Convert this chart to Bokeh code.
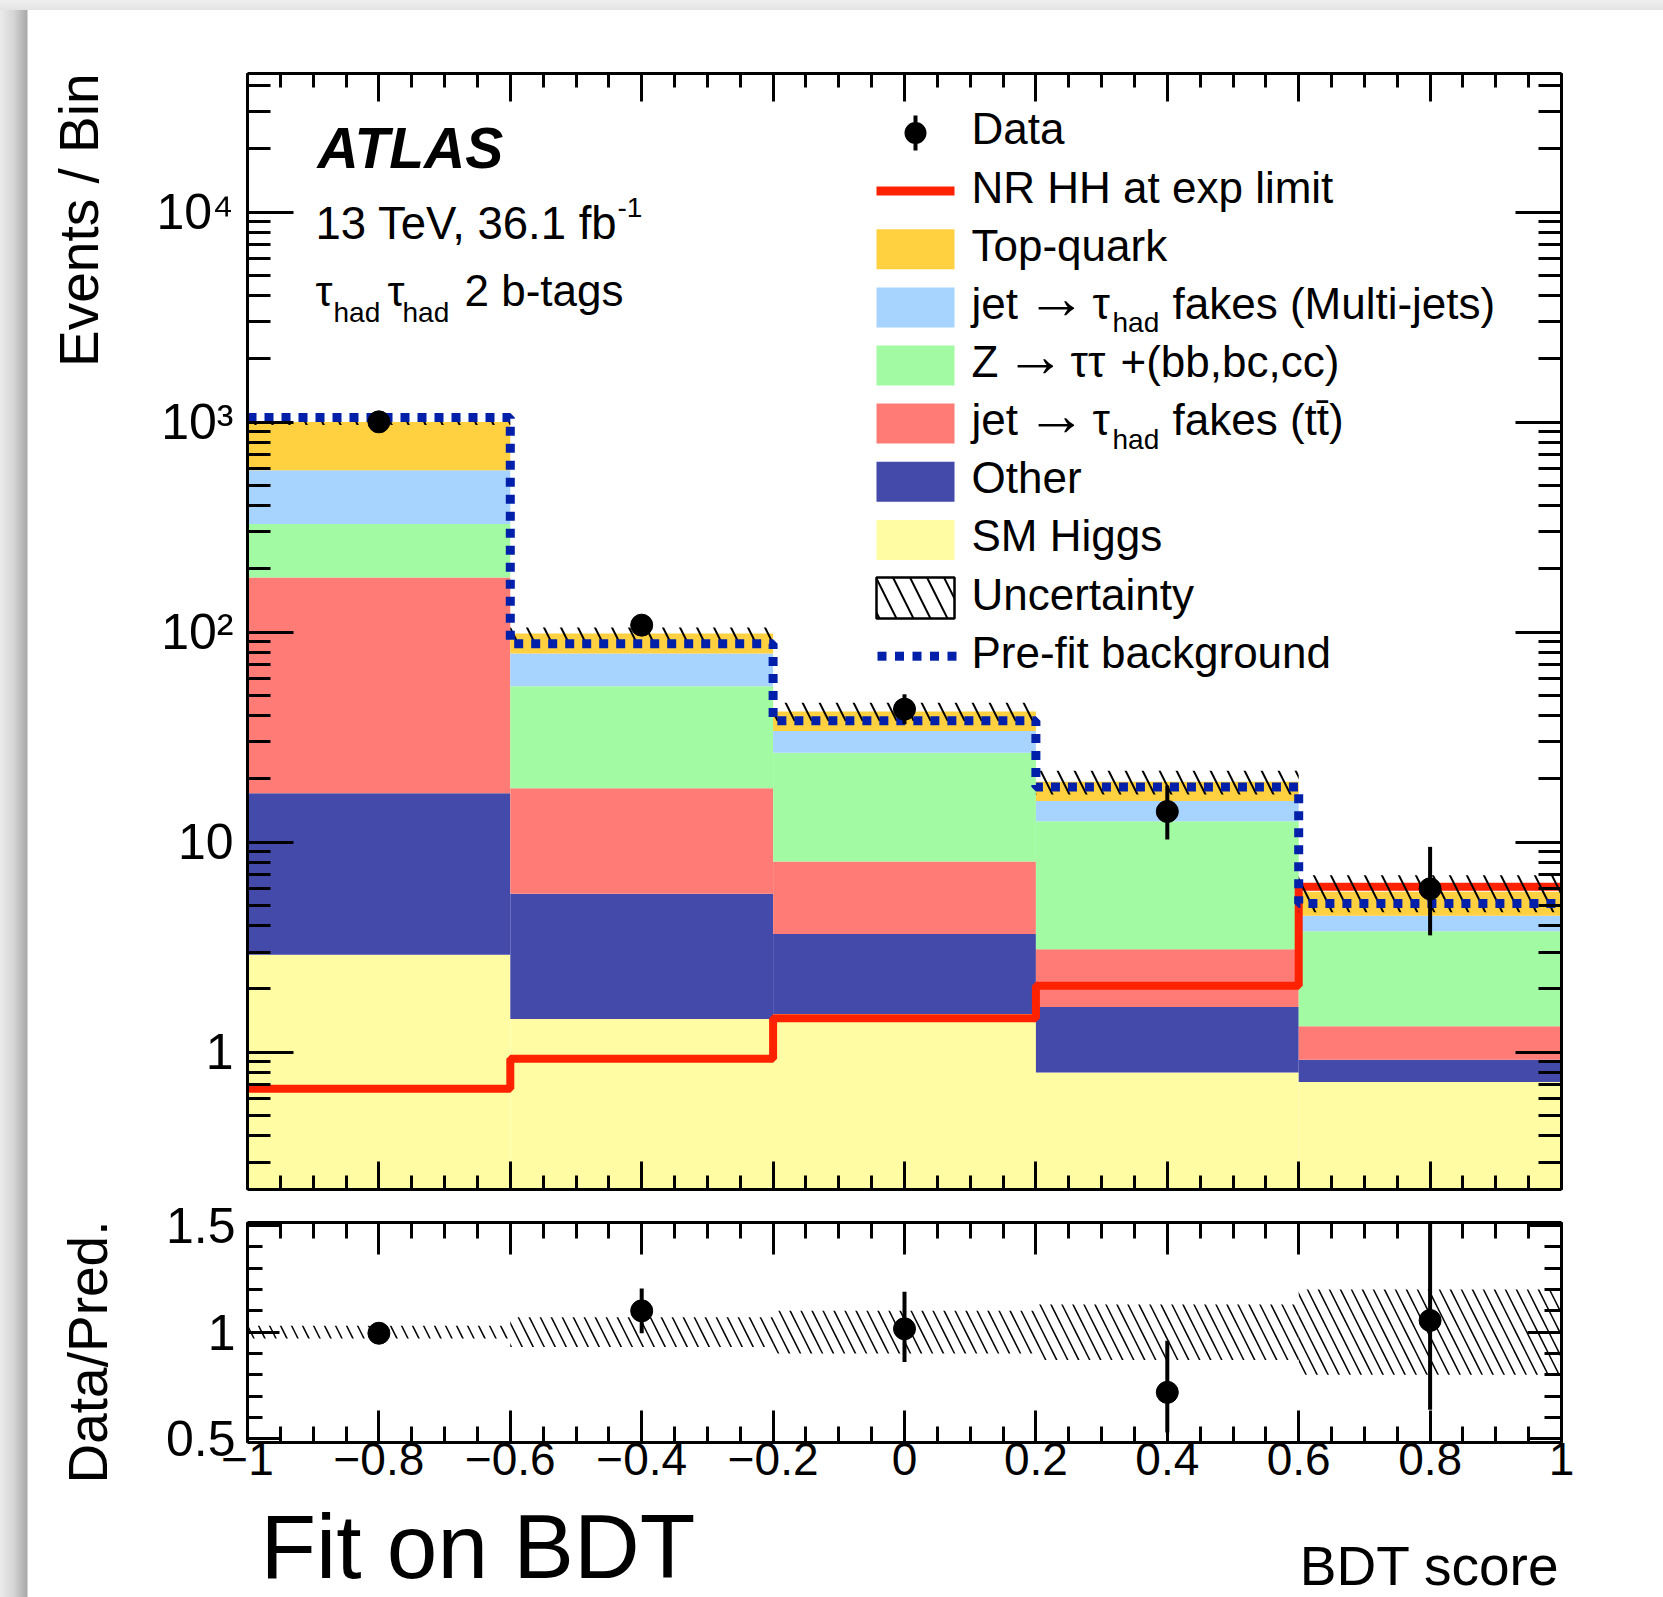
import numpy as np
from bokeh.plotting import figure
from bokeh.models import Range1d, FixedTicker, LinearAxis, LogAxis, Label, BoxAnnotation, Title
from bokeh.layouts import column
from bokeh.embed import file_html
from bokeh.resources import INLINE

# ---------------- data ----------------
bin_edges  = [-1.0, -0.6, -0.2, 0.2, 0.6, 1.0]
sm_higgs   = [2.91, 1.44, 1.52, 0.80, 0.72]
other      = [14.2, 4.24, 2.13, 0.84, 0.20]
ttbar_fake = [165.0, 12.4, 4.44, 1.45, 0.41]
ztautau    = [145.0, 37.2, 18.6, 9.5, 2.44]
multijet   = [263.0, 23.9, 7.1, 3.1, 0.69]
top_quark  = [410.0, 19.3, 8.1, 3.7, 1.34]
rel_unc    = [0.03, 0.07, 0.10, 0.13, 0.20]
prefit     = [1052.0, 88.0, 37.9, 18.3, 5.1]
nr_hh      = [0.67, 0.93, 1.45, 2.07, 6.13]
data       = [1003, 108, 43, 14, 6]
data_lo    = [971, 97.8, 36.5, 10.3, 3.6]
data_hi    = [1035, 118.9, 50.6, 18.6, 9.5]
ratio      = [0.995, 1.10, 1.016, 0.718, 1.055]
ratio_lo   = [0.966, 0.995, 0.86, 0.53, 0.636]
ratio_hi   = [1.026, 1.205, 1.19, 0.96, 1.65]

x_major = [-1.0, -0.8, -0.6, -0.4, -0.2, 0.0, 0.2, 0.4, 0.6, 0.8, 1.0]
x_labels = ["\u22121", "\u22120.8", "\u22120.6", "\u22120.4", "\u22120.2", "0", "0.2", "0.4", "0.6", "0.8", "1"]
y_major = [1, 10, 100, 1000, 10000]
y_labels = ["1", "10", "10\u00b2", "10\u00b3", "10\u2074"]
r_major = [0.5, 1.0, 1.5]
r_labels = ["0.5", "1", "1.5"]

stack = [
    ("SM Higgs", sm_higgs, "#fffca3"),
    ("Other", other, "#434aaa"),
    ("ttbar fakes", ttbar_fake, "#ff7c76"),
    ("Ztautau", ztautau, "#a2faa2"),
    ("Multi-jets", multijet, "#a6d3ff"),
    ("Top-quark", top_quark, "#ffd03f"),
]

FONT = "Liberation Sans"
W = 1663
PAGE_H = 1597
MAIN_TOP, RAT_TOP, BOT_TOP = 0, 1195, 1495
MAIN_H = RAT_TOP - MAIN_TOP
RAT_H = BOT_TOP - RAT_TOP
BOT_H = PAGE_H - BOT_TOP
FL, FR = 247, 1561
MFT, MFB = 73, 1189
RFT, RFB = 1222, 1442

left = np.array(bin_edges[:-1])
right = np.array(bin_edges[1:])
centers = (left + right) / 2

LEFT_SHADOW = "linear-gradient(to right, #ebebeb 0px, #d4d4d4 14px, #a9a9a9 27px, #ffffff 28px)"
TOP_SHADOW = "linear-gradient(to bottom, #f0f0f0 0px, #e4e4e4 10px, rgba(255,255,255,0) 10px)"

x_minor = [round(v, 2) for v in np.arange(-1.0, 1.0001, 0.05)]
y_minor = [m * 10.0 ** k for k in range(-1, 5) for m in range(2, 10)]
r_minor = [round(v, 2) for v in np.arange(0.5, 1.5001, 0.1)]


def style_axis(ax, major_in, minor_in, labels=False, size=50, standoff=10):
    ax.major_tick_in = major_in
    ax.major_tick_out = 0
    ax.minor_tick_in = minor_in
    ax.minor_tick_out = 0
    ax.major_tick_line_width = 3
    ax.minor_tick_line_width = 3
    ax.major_tick_line_color = "black"
    ax.minor_tick_line_color = "black"
    ax.axis_line_width = 3
    ax.axis_line_color = "black"
    if labels:
        ax.major_label_text_font = FONT
        ax.major_label_text_font_size = f"{size}px"
        ax.major_label_text_color = "black"
        ax.major_label_standoff = standoff
    else:
        ax.major_label_text_font_size = "3px"
        ax.major_label_text_alpha = 0
        ax.major_label_standoff = 0


def side_title(text, size, align, vertical_align, offset, standoff):
    t = Title(text=text, align=align, vertical_align=vertical_align, offset=offset,
              text_font=FONT, text_font_size=f"{size}px", text_font_style="normal", text_color="black")
    try:
        t.standoff = standoff
    except Exception:
        pass
    return t


def mlab(text, px, base_py, frame_bottom, size, **kw):
    # place by baseline (page px); Bokeh anchors at the text box middle
    cy = base_py - 0.3465 * size
    return Label(x=px - FL, y=frame_bottom - cy, x_units="screen", y_units="screen",
                 text=text, text_font=FONT, text_font_size=f"{size}px", text_color="black",
                 text_baseline="middle", **kw)


def box(l, r, t, b, fb, **kw):
    return BoxAnnotation(left=l - FL, right=r - FL, top=fb - t, bottom=fb - b,
                         left_units="screen", right_units="screen", top_units="screen",
                         bottom_units="screen", **kw)


# ---------------- main figure ----------------
p = figure(width=W, height=MAIN_H, x_range=Range1d(-1, 1), y_range=Range1d(0.222, 45700),
           y_axis_type="log", output_backend="svg", toolbar_location=None,
           min_border_left=FL, min_border_right=W - FR, min_border_top=MFT - MAIN_TOP,
           min_border_bottom=RAT_TOP - MFB)
p.grid.visible = False
p.outline_line_color = None
p.background_fill_color = "white"
p.border_fill_alpha = 0
p.styles = {"background": TOP_SHADOW + ", " + LEFT_SHADOW}

xb = p.below[0]
xb.ticker = FixedTicker(ticks=x_major, minor_ticks=x_minor)
style_axis(xb, 28, 14)
xt = LinearAxis(ticker=FixedTicker(ticks=x_major, minor_ticks=x_minor))
style_axis(xt, 28, 14)
p.add_layout(xt, "above")

yl = p.left[0]
yl.ticker = FixedTicker(ticks=y_major, minor_ticks=y_minor)
yl.major_label_overrides = {float(k): v for k, v in zip(y_major, y_labels)}
style_axis(yl, 46, 23, labels=True, size=50, standoff=14)
yr = LogAxis(ticker=FixedTicker(ticks=y_major, minor_ticks=y_minor))
style_axis(yr, 46, 23)
p.add_layout(yr, "right")

# y title, ROOT style: flush with the top of the frame
p.add_layout(side_title("Events / Bin", 55, "right", "bottom", 0, 88), "left")

# stacked backgrounds
bottom = np.full(5, 1e-3)
for name, vals, col in stack:
    top = bottom + np.array(vals)
    p.quad(left=left, right=right, bottom=bottom, top=top, fill_color=col, line_color=None)
    bottom = top
total = bottom

# NR HH signal
p.step(x=bin_edges, y=nr_hh + [nr_hh[-1]], mode="after", line_color="#ff2200", line_width=8)

# uncertainty band
unc = np.array(rel_unc)
p.quad(left=left, right=right, bottom=total * (1 - unc), top=total * (1 + unc), fill_color=None,
       line_color=None, hatch_pattern="\\", hatch_color="black", hatch_scale=34, hatch_weight=2)

# pre-fit background
p.step(x=bin_edges, y=prefit + [prefit[-1]], mode="after", line_color="#0020aa", line_width=9,
       line_dash="9 8")

# data
p.segment(x0=centers, y0=data_lo, x1=centers, y1=data_hi, line_color="black", line_width=4)
p.scatter(x=centers, y=data, size=22, fill_color="black", line_color="black")

# ATLAS label block
p.add_layout(mlab("ATLAS", 317, 167, MFB, 57, text_font_style="bold italic"))
p.add_layout(mlab("13 TeV, 36.1 fb", 315, 239, MFB, 45.5))
p.add_layout(mlab("-1", 617, 217, MFB, 28))
p.add_layout(mlab("\u03c4", 315, 305, MFB, 43))
p.add_layout(mlab("had", 333, 322, MFB, 28))
p.add_layout(mlab("\u03c4", 387, 305, MFB, 43))
p.add_layout(mlab("had", 402, 322, MFB, 28))
p.add_layout(mlab("2 b-tags", 464, 305, MFB, 44))

# legend (hand built so subscripts can be drawn)
row_c = [132.5, 190.6, 248.8, 306.9, 365.0, 423.1, 481.3, 539.4, 597.6, 655.7]
SW_L, SW_R, TX = 876, 954, 971
p.add_layout(box(913, 917, row_c[0] - 17.5, row_c[0] + 17.5, MFB, fill_color="black", fill_alpha=1,
                 line_color=None))
p.add_layout(box(904, 926, row_c[0] - 11, row_c[0] + 11, MFB, fill_color="black", fill_alpha=1,
                 line_color=None, border_radius=11))
p.add_layout(box(SW_L, SW_R, row_c[1] - 4.5, row_c[1] + 4.5, MFB, fill_color="#ff2200", fill_alpha=1,
                 line_color=None))
sw_cols = ["#ffd03f", "#a6d3ff", "#a2faa2", "#ff7c76", "#434aaa", "#fffca3"]
for i, col in enumerate(sw_cols):
    c = row_c[2 + i]
    p.add_layout(box(SW_L, SW_R, c - 20, c + 20, MFB, fill_color=col, fill_alpha=1, line_color=None))
c = row_c[8]
p.add_layout(box(SW_L, SW_R, c - 20.5, c + 20.5, MFB, fill_color="white", fill_alpha=1, line_color="black",
                 line_alpha=1, line_width=2.5, hatch_pattern="\\", hatch_color="black", hatch_scale=34,
                 hatch_weight=2))
c = row_c[9]
for i in range(5):
    x0 = 877 + i * 17.5
    p.add_layout(box(x0, x0 + 9, c - 4.5, c + 4.5, MFB, fill_color="#0020aa", fill_alpha=1, line_color=None))

BL = 11.2
LS = 44
ARROW = "\u2192"
p.add_layout(mlab("Data", TX, row_c[0] + BL, MFB, LS))
p.add_layout(mlab("NR HH at exp limit", TX, row_c[1] + BL, MFB, LS))
p.add_layout(mlab("Top-quark", TX, row_c[2] + BL, MFB, LS))
# jet -> tau_had fakes (Multi-jets)
y3 = row_c[3] + BL
p.add_layout(mlab("jet", TX, y3, MFB, LS))
p.add_layout(mlab(ARROW, 1026, y3, MFB, 60))
p.add_layout(mlab("\u03c4", 1092, y3, MFB, LS))
p.add_layout(mlab("had", 1112, y3 + 14, MFB, 28))
p.add_layout(mlab("fakes (Multi-jets)", 1172, y3, MFB, LS))
# Z -> tautau +(bb,bc,cc)
y4 = row_c[4] + BL
p.add_layout(mlab("Z", TX, y4, MFB, LS))
p.add_layout(mlab(ARROW, 1005, y4, MFB, 60))
p.add_layout(mlab("\u03c4\u03c4", 1070, y4, MFB, LS))
p.add_layout(mlab("+(bb,bc,cc)", 1120, y4, MFB, LS))
# jet -> tau_had fakes (ttbar)
y5 = row_c[5] + BL
p.add_layout(mlab("jet", TX, y5, MFB, LS))
p.add_layout(mlab(ARROW, 1026, y5, MFB, 60))
p.add_layout(mlab("\u03c4", 1092, y5, MFB, LS))
p.add_layout(mlab("had", 1112, y5 + 14, MFB, 28))
p.add_layout(mlab("fakes (tt\u0304)", 1172, y5, MFB, LS))
p.add_layout(mlab("Other", TX, row_c[6] + BL, MFB, LS))
p.add_layout(mlab("SM Higgs", TX, row_c[7] + BL, MFB, LS))
p.add_layout(mlab("Uncertainty", TX, row_c[8] + BL, MFB, LS))
p.add_layout(mlab("Pre-fit background", TX, row_c[9] + BL, MFB, LS))

# ---------------- ratio figure ----------------
r = figure(width=W, height=RAT_H, x_range=p.x_range, y_range=Range1d(0.483, 1.514),
           output_backend="svg", toolbar_location=None,
           min_border_left=FL, min_border_right=W - FR, min_border_top=RFT - RAT_TOP,
           min_border_bottom=BOT_TOP - RFB)
r.grid.visible = False
r.outline_line_color = None
r.background_fill_color = "white"
r.border_fill_alpha = 0
r.styles = {"background": LEFT_SHADOW}

rb = r.below[0]
rb.ticker = FixedTicker(ticks=x_major, minor_ticks=x_minor)
rb.major_label_overrides = {float(k): v for k, v in zip(x_major, x_labels)}
style_axis(rb, 32, 16, labels=True, size=46, standoff=0)
rt = LinearAxis(ticker=FixedTicker(ticks=x_major, minor_ticks=x_minor))
style_axis(rt, 32, 16)
r.add_layout(rt, "above")

rl = r.left[0]
rl.ticker = FixedTicker(ticks=r_major, minor_ticks=r_minor)
rl.major_label_overrides = {float(k): v for k, v in zip(r_major, r_labels)}
style_axis(rl, 32, 15, labels=True, size=50, standoff=12)
rr = LinearAxis(ticker=FixedTicker(ticks=r_major, minor_ticks=r_minor))
style_axis(rr, 34, 17)
r.add_layout(rr, "right")

# ratio y title, starting a little below the frame as in the original
r.add_layout(side_title("Data/Pred.", 55, "left", "bottom", -41, 88), "left")

r.quad(left=left, right=right, bottom=1 - unc, top=1 + unc, fill_color=None, line_color=None,
       hatch_pattern="\\", hatch_color="black", hatch_scale=22, hatch_weight=1.5)
r.segment(x0=centers, y0=ratio_lo, x1=centers, y1=ratio_hi, line_color="black", line_width=4)
r.scatter(x=centers, y=ratio, size=22, fill_color="black", line_color="black")

# ---------------- bottom strip with the x title and the slide caption ----------------
b = figure(width=W, height=BOT_H, x_range=Range1d(0, 1), y_range=Range1d(0, 1),
           output_backend="svg", toolbar_location=None, min_border=0,
           x_axis_location=None, y_axis_location=None)
b.grid.visible = False
b.outline_line_color = None
b.background_fill_alpha = 0
b.border_fill_alpha = 0
b.styles = {"background": LEFT_SHADOW}
b.add_layout(mlab("Fit on BDT", 260, 1577.5, PAGE_H, 91))
b.add_layout(mlab("BDT score", 1559, 1585, PAGE_H, 55, text_align="right"))

lay = column(p, r, b, spacing=0)
with open("out.html", "w", encoding="utf-8") as f:
    f.write(file_html(lay, INLINE))
